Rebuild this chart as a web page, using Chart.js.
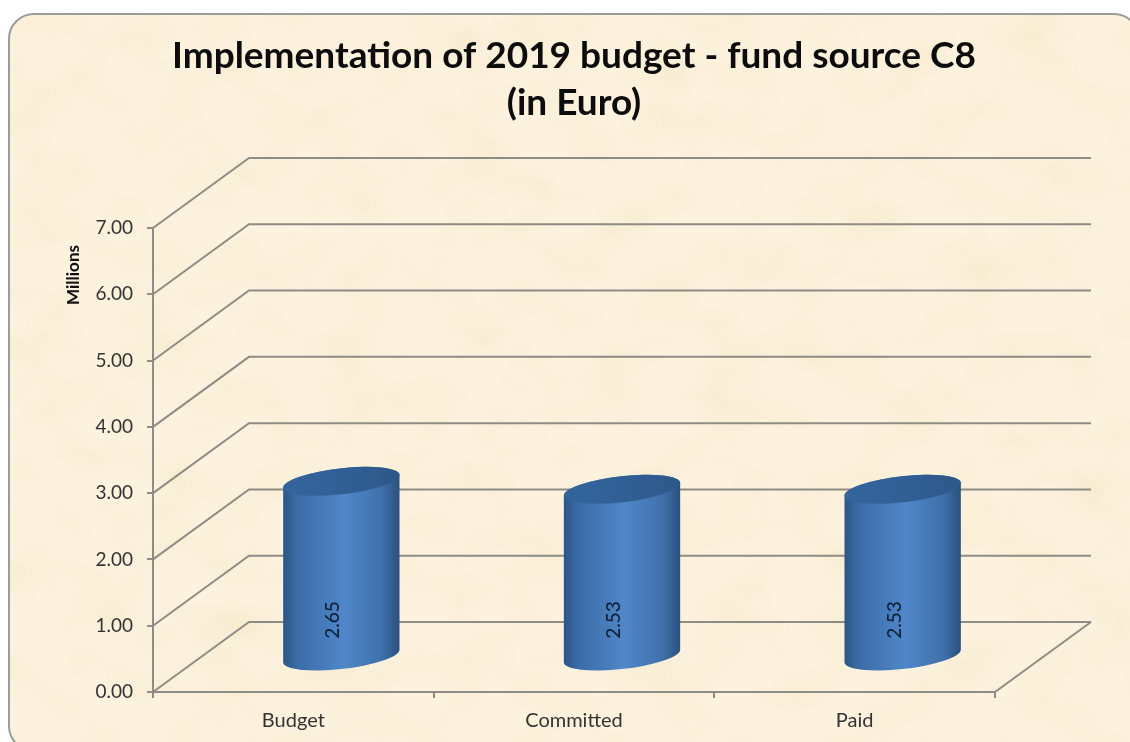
<!DOCTYPE html>
<html>
<head>
<meta charset="utf-8">
<title>Implementation of 2019 budget</title>
<script src="https://cdn.jsdelivr.net/npm/chart.js@4/dist/chart.umd.min.js"></script>
<style>
  html, body { margin: 0; padding: 0; background: #fff; width: 1130px; height: 742px; overflow: hidden; }
  #panel {
    position: absolute; left: 8px; top: 13px; width: 1128px; height: 735px;
    border: 2px solid #9b9b98; border-radius: 26px; overflow: hidden; background: #fcf2de;
  }
  #panel svg { position: absolute; left: 0; top: 0; width: 100%; height: 100%; }
  canvas { position: absolute; left: 0; top: 0; }
</style>
</head>
<body>
<div id="panel">
  <!-- parchment mottling behind the chart -->
  <svg xmlns="http://www.w3.org/2000/svg">
    <filter id="mottle" x="0" y="0" width="100%" height="100%">
      <feTurbulence type="fractalNoise" baseFrequency="0.016 0.022" numOctaves="4" seed="7"/>
      <feColorMatrix type="matrix" values="0 0 0 0 0.93  0 0 0 0 0.83  0 0 0 0 0.62  1.7 0 0 0 -0.70"/>
    </filter>
    <rect width="100%" height="100%" filter="url(#mottle)"/>
  </svg>
</div>
<canvas id="chart" width="1130" height="742"></canvas>
<script>
const categories = ['Budget', 'Committed', 'Paid'];
const amounts = [2.65, 2.53, 2.53];
const yTickValues = [0, 1, 2, 3, 4, 5, 6, 7];
const titleLines = ['Implementation of 2019 budget - fund source C8', '(in Euro)'];
const unitLabel = 'Millions';

const FONT = 'Lato, Carlito, sans-serif';
const LINE = '#8e8c84';
const DEPTH_X = 96, DEPTH_Y = -70;

// Back wall, side wall and floor of the box around the columns
const wallPlugin = {
  id: 'walls',
  beforeDatasetsDraw(chart) {
    const { ctx, scales: { x, y } } = chart;
    ctx.save();
    ctx.strokeStyle = LINE;
    ctx.lineWidth = 2;
    for (const v of yTickValues) {
      const py = y.getPixelForValue(v);
      ctx.beginPath();
      ctx.moveTo(x.left, py);
      ctx.lineTo(x.left + DEPTH_X, py + DEPTH_Y);
      ctx.lineTo(x.right + DEPTH_X, py + DEPTH_Y);
      ctx.stroke();
    }
    const floor = y.getPixelForValue(0);
    ctx.beginPath();
    ctx.moveTo(x.right, floor);
    ctx.lineTo(x.right + DEPTH_X, floor + DEPTH_Y);
    ctx.stroke();
    ctx.restore();
  }
};

// Each bar is painted as a tilted cylinder standing halfway into the box
const cylinderPlugin = {
  id: 'cylinders',
  afterDatasetsDraw(chart) {
    const { ctx } = chart;
    const tilt = -6.5 * Math.PI / 180;
    chart.getDatasetMeta(0).data.forEach((bar, i) => {
      const cx = bar.x + DEPTH_X / 2;
      const top = bar.y + DEPTH_Y / 2;
      const base = bar.base + DEPTH_Y / 2;
      const a = bar.width / 2;
      const b = 13;
      const t0 = Math.atan(-(b / a) * Math.tan(tilt));

      const side = ctx.createLinearGradient(cx - a, 0, cx + a, 0);
      side.addColorStop(0, '#2b5586');
      side.addColorStop(0.12, '#3a6ba6');
      side.addColorStop(0.52, '#5087c9');
      side.addColorStop(0.85, '#3f70ab');
      side.addColorStop(1, '#2a4f7d');

      ctx.save();
      ctx.beginPath();
      ctx.ellipse(cx, base, a, b, tilt, t0, t0 + Math.PI);
      ctx.ellipse(cx, top, a, b, tilt, t0 + Math.PI, t0 + 2 * Math.PI);
      ctx.closePath();
      ctx.fillStyle = side;
      ctx.fill();

      const cap = ctx.createLinearGradient(cx - a, 0, cx + a, 0);
      cap.addColorStop(0, '#33659d');
      cap.addColorStop(0.5, '#315f95');
      cap.addColorStop(1, '#2d5888');
      ctx.beginPath();
      ctx.ellipse(cx, top, a, b, tilt, 0, 2 * Math.PI);
      ctx.fillStyle = cap;
      ctx.fill();

      // value printed up the front of the column
      ctx.translate(cx - 8, bar.base - 71);
      ctx.rotate(-Math.PI / 2);
      ctx.font = '500 19px ' + FONT;
      ctx.fillStyle = '#0f2038';
      ctx.textAlign = 'center';
      ctx.textBaseline = 'middle';
      ctx.fillText(amounts[i].toFixed(2), 0, 0);
      ctx.restore();
    });
  }
};

// Unit caption beside the upper part of the value axis
const unitPlugin = {
  id: 'unit',
  afterDraw(chart) {
    const { ctx, scales: { y } } = chart;
    ctx.save();
    ctx.translate(74, y.top + 47);
    ctx.rotate(-Math.PI / 2);
    ctx.font = 'bold 17px ' + FONT;
    ctx.fillStyle = '#111';
    ctx.textAlign = 'center';
    ctx.textBaseline = 'middle';
    ctx.fillText(unitLabel, 0, 0);
    ctx.restore();
  }
};

new Chart(document.getElementById('chart'), {
  type: 'bar',
  data: {
    labels: categories,
    datasets: [{
      data: amounts,
      backgroundColor: 'rgba(0,0,0,0)',
      borderWidth: 0,
      categoryPercentage: 1,
      barPercentage: 0.417
    }]
  },
  plugins: [wallPlugin, cylinderPlugin, unitPlugin],
  options: {
    responsive: false,
    animation: false,
    layout: { padding: { left: 0, right: 135, top: 0, bottom: 0 } },
    plugins: {
      legend: { display: false },
      tooltip: { enabled: false },
      title: {
        display: true,
        fullSize: false,
        text: titleLines,
        color: '#0c0c0c',
        font: { family: FONT, size: 37, weight: 'bold', lineHeight: 1.27 },
        padding: { top: 33, bottom: 101 }
      }
    },
    scales: {
      x: {
        afterFit(s) { s.height = 50; },
        grid: { drawOnChartArea: false, color: LINE, lineWidth: 2, tickLength: 6 },
        border: { color: LINE, width: 2 },
        ticks: { color: '#333', font: { family: FONT, size: 20 }, padding: 11, maxRotation: 0 }
      },
      y: {
        min: 0,
        max: 7,
        afterFit(s) { s.width = 153; },
        afterBuildTicks(s) { s.ticks = yTickValues.map(value => ({ value })); },
        grid: { drawOnChartArea: false, color: LINE, lineWidth: 2, tickLength: 6 },
        border: { color: LINE, width: 2 },
        ticks: {
          color: '#333',
          font: { family: FONT, size: 19 },
          padding: 14,
          callback: v => Number(v).toFixed(2)
        }
      }
    }
  }
});
</script>
</body>
</html>
